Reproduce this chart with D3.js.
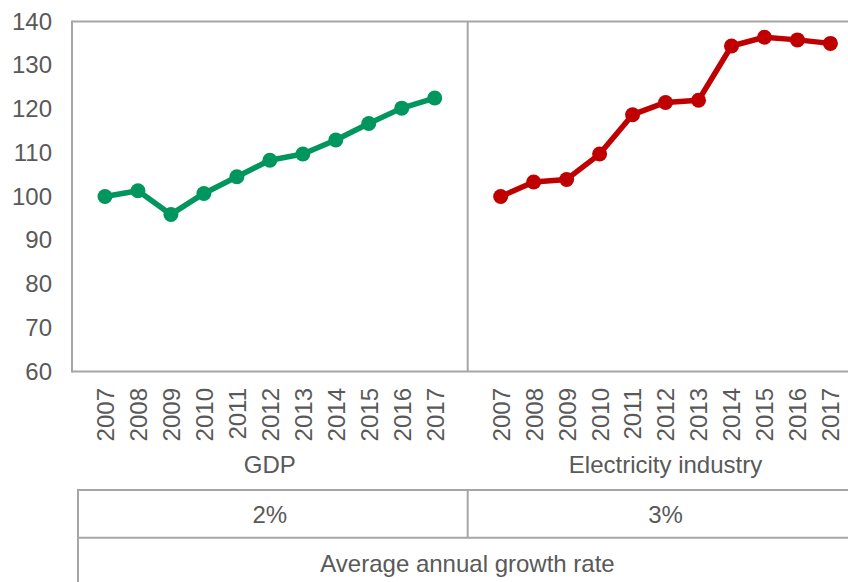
<!DOCTYPE html>
<html>
<head>
<meta charset="utf-8">
<script src="https://cdn.jsdelivr.net/npm/d3@7"></script>
<style>
  html, body { margin: 0; padding: 0; background: #fff; }
  svg { display: block; font-family: "Liberation Sans", Arial, sans-serif; }
</style>
</head>
<body>
<div id="chart"></div>
<script>
// data
const years = ['2007', '2008', '2009', '2010', '2011', '2012', '2013', '2014', '2015', '2016', '2017'];
const gdpValues = [100, 101.3, 95.9, 100.7, 104.5, 108.3, 109.7, 112.9, 116.7, 120.2, 122.5];
const electricityValues = [100, 103.3, 103.9, 109.7, 118.7, 121.5, 122, 134.4, 136.4, 135.8, 135.0];
const groupNames = ['GDP', 'Electricity industry'];
const growthRates = ['2%', '3%'];
const tableTitle = 'Average annual growth rate';
const yTicks = [60, 70, 80, 90, 100, 110, 120, 130, 140];

const width = 848, height = 582;
const plotLeft = 72, plotTop = 21.5, plotBottom = 371.5;
const panelW = 395.7;
const gridColor = '#a6a6a6';
const textColor = '#595959';
const fontSize = 24;

const panels = [
  { name: groupNames[0], rate: growthRates[0], values: gdpValues, color: '#00965e' },
  { name: groupNames[1], rate: growthRates[1], values: electricityValues, color: '#c00000' }
];

const svg = d3.select('#chart').append('svg')
  .attr('width', width)
  .attr('height', height);

const y = d3.scaleLinear().domain([60, 140]).range([plotBottom, plotTop]);

// y axis labels
const yAxis = svg.append('g')
  .attr('transform', `translate(${plotLeft},0)`)
  .call(d3.axisLeft(y).tickValues(yTicks).tickSize(0).tickPadding(20));
yAxis.attr('font-family', null).attr('font-size', null);
yAxis.select('.domain').remove();
yAxis.selectAll('text')
  .attr('fill', textColor)
  .attr('font-size', fontSize);

// plot frame
const frame = svg.append('g')
  .attr('stroke', gridColor)
  .attr('stroke-width', 2)
  .attr('fill', 'none');
frame.append('line').attr('x1', plotLeft).attr('x2', width + 20).attr('y1', plotTop).attr('y2', plotTop);
frame.append('line').attr('x1', plotLeft).attr('x2', width + 20).attr('y1', plotBottom).attr('y2', plotBottom);
frame.append('line').attr('x1', plotLeft).attr('x2', plotLeft).attr('y1', plotTop - 1).attr('y2', plotBottom + 1);
frame.append('line').attr('x1', plotLeft + panelW).attr('x2', plotLeft + panelW).attr('y1', plotTop).attr('y2', plotBottom);

panels.forEach((p, i) => {
  const x0 = plotLeft + i * panelW;
  const x = d3.scalePoint().domain(years).range([x0, x0 + panelW]).padding(1);

  // year labels, rotated
  const xAxis = svg.append('g')
    .attr('transform', `translate(0,${plotBottom})`)
    .call(d3.axisBottom(x).tickSize(0));
  xAxis.attr('font-family', null).attr('font-size', null);
  xAxis.select('.domain').remove();
  xAxis.selectAll('text')
    .attr('fill', textColor)
    .attr('font-size', fontSize)
    .attr('text-anchor', 'end')
    .attr('dy', '0.35em')
    .attr('transform', 'translate(0,16.5) rotate(-90)')
    .attr('y', 0)
    .attr('x', 0);

  // group name
  svg.append('text')
    .attr('x', x0 + panelW / 2)
    .attr('y', 473)
    .attr('text-anchor', 'middle')
    .attr('fill', textColor)
    .attr('font-size', fontSize)
    .text(p.name);

  // growth rate cell
  svg.append('text')
    .attr('x', x0 + panelW / 2)
    .attr('y', 522.5)
    .attr('text-anchor', 'middle')
    .attr('fill', textColor)
    .attr('font-size', fontSize)
    .text(p.rate);

  const line = d3.line()
    .x((d, j) => x(years[j]))
    .y(d => y(d));

  svg.append('path')
    .datum(p.values)
    .attr('d', line)
    .attr('fill', 'none')
    .attr('stroke', p.color)
    .attr('stroke-width', 5.5)
    .attr('stroke-linejoin', 'round');

  svg.append('g').selectAll('circle')
    .data(p.values)
    .enter()
    .append('circle')
    .attr('cx', (d, j) => x(years[j]))
    .attr('cy', d => y(d))
    .attr('r', 7.5)
    .attr('fill', p.color);
});

// table under the chart
const table = svg.append('g')
  .attr('stroke', gridColor)
  .attr('stroke-width', 2)
  .attr('fill', 'none');
table.append('line').attr('x1', 78).attr('x2', width + 20).attr('y1', 490).attr('y2', 490);
table.append('line').attr('x1', 78).attr('x2', width + 20).attr('y1', 537.7).attr('y2', 537.7);
table.append('line').attr('x1', 78).attr('x2', 78).attr('y1', 489).attr('y2', height + 5);
table.append('line').attr('x1', plotLeft + panelW).attr('x2', plotLeft + panelW).attr('y1', 490).attr('y2', 537.7);

svg.append('text')
  .attr('x', 467.5)
  .attr('y', 571.7)
  .attr('text-anchor', 'middle')
  .attr('fill', textColor)
  .attr('font-size', fontSize)
  .text(tableTitle);
</script>
</body>
</html>
